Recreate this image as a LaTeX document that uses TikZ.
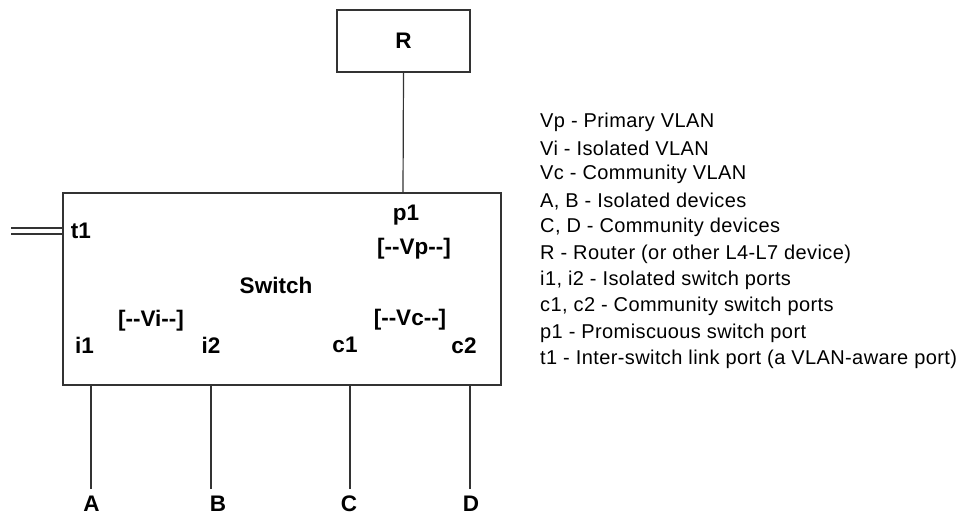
\documentclass[tikz,border=0pt]{standalone}
\usepackage{fontspec}
\setmainfont{Liberation Sans}
\newfontfamily\legfont[LetterSpace=2]{Liberation Sans}
\newfontfamily\labfont{Liberation Sans Bold}
\begin{document}
\begin{tikzpicture}[x=1pt,y=-1pt,
  lbl/.style={inner sep=0pt,font=\labfont\fontsize{22.5}{22.5}\selectfont},
  leg/.style={inner sep=0pt,anchor=west,font=\legfont\fontsize{20}{20}\selectfont},
  wire/.style={line width=1.2pt,draw=black!80}]
\useasboundingbox (0,0) rectangle (958,516);
\node[draw=black!80,line width=1.2pt,minimum width=133pt,minimum height=62pt,inner sep=0pt,lbl] (R) at (403.5,41) {R};
\node[draw=black!80,line width=1.2pt,minimum width=438pt,minimum height=192pt,inner sep=0pt] (sw) at (282,289) {};
\coordinate (rp) at (403,193);
\draw[wire] (R.south) -- (rp);
\coordinate (t1a) at (11,228);
\coordinate (t1b) at (11,234);
\coordinate (swa) at (63,228);
\coordinate (swb) at (63,234);
\draw[wire] (t1a) -- (swa);
\draw[wire] (t1b) -- (swb);
\node[lbl] (t1) at (81,231) {t1};
\node[lbl] (p1) at (406,215) {p1};
\node[lbl] (vp) at (414,249) {[--Vp--]};
\node[lbl] (swl) at (276,285) {Switch};
\node[lbl] (vi) at (151,321) {[--Vi--]};
\node[lbl] (vc) at (410,320) {[--Vc--]};
\node[lbl] (i1) at (84.5,345) {i1};
\node[lbl] (i2) at (211,345) {i2};
\node[lbl] (c1) at (345,345) {c1};
\node[lbl] (c2) at (464,346) {c2};
\node[lbl] (A) at (91.5,504) {A};
\node[lbl] (B) at (218,504) {B};
\node[lbl] (C) at (349,504) {C};
\node[lbl] (D) at (471,504) {D};
\coordinate (pa) at (91,385);
\coordinate (pb) at (211,385);
\coordinate (pc) at (350,385);
\coordinate (pd) at (470,385);
\coordinate (ea) at (91,489);
\coordinate (eb) at (211,489);
\coordinate (ec) at (350,489);
\coordinate (ed) at (470,489);
\draw[wire] (pa) -- (ea);
\draw[wire] (pb) -- (eb);
\draw[wire] (pc) -- (ec);
\draw[wire] (pd) -- (ed);
\node[leg] (l1) at (540,122) {Vp - Primary VLAN};
\node[leg] (l2) at (540,148.4) {Vi - Isolated VLAN};
\node[leg] (l3) at (540,174.8) {Vc - Community VLAN};
\node[leg] (l4) at (540,201.2) {A, B - Isolated devices};
\node[leg] (l5) at (540,227.6) {C, D - Community devices};
\node[leg] (l6) at (540,254) {R - Router (or other L4-L7 device)};
\node[leg] (l7) at (540,280.4) {i1, i2 - Isolated switch ports};
\node[leg] (l8) at (540,306.8) {c1, c2 - Community switch ports};
\node[leg] (l9) at (540,333.2) {p1 - Promiscuous switch port};
\node[leg] (l10) at (540,359.6) {t1 - Inter-switch link port (a VLAN-aware port)};
\end{tikzpicture}
\end{document}
